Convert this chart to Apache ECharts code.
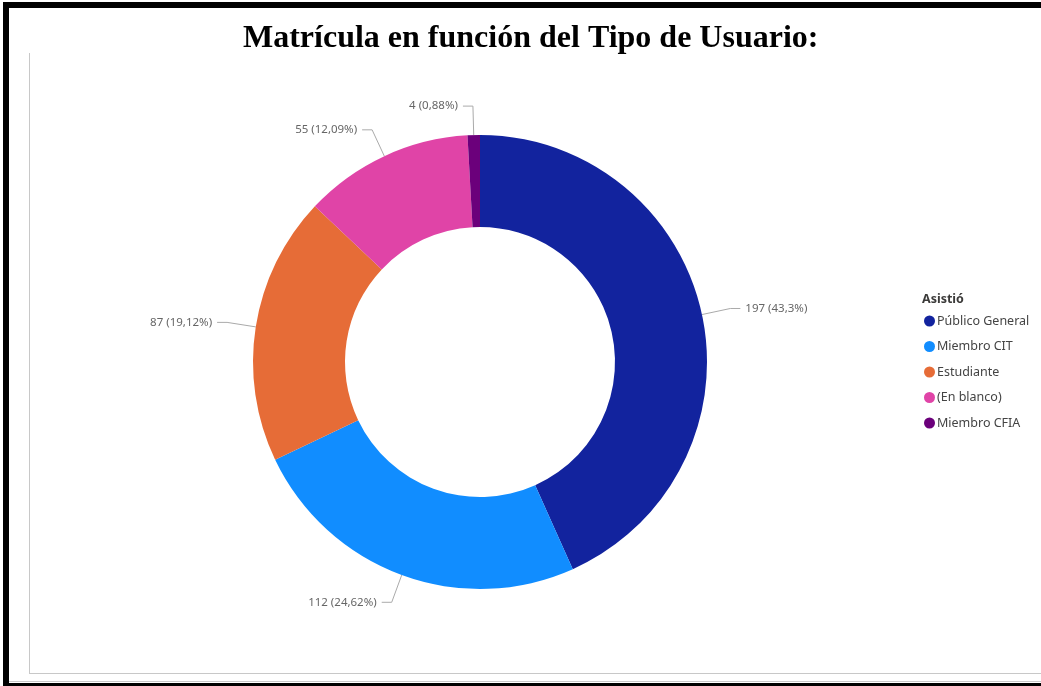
<!DOCTYPE html>
<html>
<head>
<meta charset="utf-8">
<script src="https://cdn.jsdelivr.net/npm/echarts@6/dist/echarts.min.js"></script>
<style>
html,body{margin:0;padding:0;background:#fff;}
#chart{width:1041px;height:686px;}
</style>
</head>
<body>
<div id="chart"></div>
<script>
const titleText = 'Matrícula en función del Tipo de Usuario:';
const legendTitle = 'Asistió';
const categories = ['Público General', 'Miembro CIT', 'Estudiante', '(En blanco)', 'Miembro CFIA'];
const values = [197, 112, 87, 55, 4];
const colors = ['#12239E', '#118DFF', '#E66C37', '#E044A7', '#6B007B'];

const total = values.reduce((a, b) => a + b, 0);
function pctText(v) {
  let s = (v / total * 100).toFixed(2).replace(/0+$/, '').replace(/\.$/, '');
  return s.replace('.', ',') + '%';
}

const chart = echarts.init(document.getElementById('chart'), null, {renderer: 'canvas'});
const uiFont = '"Segoe UI", "Noto Sans", "Open Sans", sans-serif';

chart.setOption({
  animation: false,
  backgroundColor: '#fff',
  title: [
    {
      text: titleText,
      left: 238,
      top: 18,
      textStyle: {fontFamily: '"Liberation Serif", "Times New Roman", serif', fontWeight: 'bold', fontSize: 32, color: '#000'}
    },
    {
      text: legendTitle,
      left: 917,
      top: 288,
      textStyle: {fontFamily: uiFont, fontWeight: 'bold', fontSize: 12.5, color: '#3b3a39'}
    }
  ],
  legend: {
    orient: 'vertical',
    left: 924,
    top: 314,
    padding: 0,
    icon: 'circle',
    itemWidth: 11,
    itemHeight: 11,
    itemGap: 11.5,
    data: categories,
    textStyle: {fontFamily: uiFont, fontSize: 12.5, color: '#444', lineHeight: 14, padding: [0, 0, 0, -3]}
  },
  color: colors,
  graphic: [
    {type: 'rect', shape: {x: 3, y: 2, width: 1038, height: 6}, style: {fill: '#000'}},
    {type: 'rect', shape: {x: 3, y: 2, width: 6, height: 684}, style: {fill: '#000'}},
    {type: 'rect', shape: {x: 3, y: 683, width: 1038, height: 3}, style: {fill: '#000'}},
    {type: 'rect', shape: {x: 9, y: 681, width: 1032, height: 1}, style: {fill: '#c8c8c8'}},
    {type: 'rect', shape: {x: 29, y: 53, width: 1, height: 621}, style: {fill: '#c8c8c8'}},
    {type: 'rect', shape: {x: 29, y: 673, width: 1012, height: 1}, style: {fill: '#c8c8c8'}}
  ],
  series: [{
    type: 'pie',
    center: [480, 362],
    radius: [135, 227],
    startAngle: 90,
    clockwise: true,
    avoidLabelOverlap: true,
    silent: true,
    data: categories.map((c, i) => ({name: c, value: values[i]})),
    label: {
      show: true,
      formatter: p => p.value + ' (' + pctText(p.value) + ')',
      fontFamily: uiFont,
      fontSize: 11.5,
      color: '#666'
    },
    labelLine: {
      show: true,
      length: 29,
      length2: 10,
      lineStyle: {color: '#aaa', width: 1}
    }
  }]
});
</script>
</body>
</html>
